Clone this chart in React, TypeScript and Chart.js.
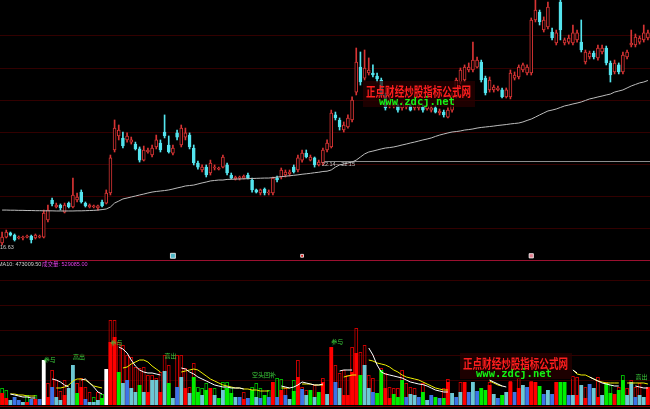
import React, { useEffect, useRef } from 'react';
import { Chart, registerables } from 'chart.js';

Chart.register(...registerables);

// ---------- price panel ----------
const OPEN = [
  16.76, 17.15, 17.42, 17.28, 17.09, 17.09, 17.15, 17.22, 17.09, 17.15,
  17.15, 18.27, 19.58, 19.12, 19.25, 18.79, 19.38, 19.12, 19.58, 20.10,
  19.38, 19.12, 19.12, 19.06, 19.45, 19.38, 20.04, 22.86, 23.78, 23.65,
  23.52, 23.38, 23.25, 22.93, 22.20, 22.73, 22.53, 23.06, 23.32, 24.04,
  23.19, 22.66, 23.98, 23.19, 23.71, 23.84, 22.99, 22.01, 21.55, 21.74,
  21.35, 21.68, 21.61, 21.74, 21.88, 21.22, 20.96, 21.02, 21.02, 21.22,
  20.89, 20.24, 20.04, 20.30, 20.04, 20.04, 21.02, 21.09, 21.22, 21.30,
  21.74, 21.55, 22.20, 22.66, 22.20, 22.34, 21.88, 22.01, 22.86, 23.06,
  25.16, 24.83, 24.17, 24.37, 24.83, 26.66, 28.30, 27.58, 27.91, 27.91,
  27.71, 27.45, 26.47, 25.75, 25.75, 25.75, 25.62, 25.68, 25.75, 25.62,
  25.62, 25.68, 25.55, 25.48, 25.62, 25.29, 25.35, 25.02, 25.48, 26.34,
  27.32, 27.45, 28.11, 28.11, 28.30, 28.63, 27.58, 26.80, 26.80, 26.80,
  26.80, 26.34, 26.34, 27.58, 27.65, 28.11, 27.91, 27.91, 31.39, 31.91,
  30.73, 30.93, 30.60, 29.88, 32.57, 29.88, 29.94, 29.88, 30.08, 29.94,
  28.63, 28.96, 29.22, 28.90, 29.29, 29.55, 28.57, 27.98, 28.44, 27.98,
  28.96, 29.75, 29.75, 29.94, 30.08, 30.21,
];
const HIGH = [
  17.48, 17.61, 17.48, 17.35, 17.22, 17.22, 17.28, 17.28, 17.35, 17.28,
  18.92, 19.25, 19.71, 19.38, 19.32, 19.38, 19.45, 21.02, 20.04, 20.24,
  19.45, 19.32, 19.25, 19.25, 19.58, 20.24, 22.53, 24.83, 24.50, 24.04,
  23.98, 23.71, 23.38, 23.06, 23.12, 22.99, 23.19, 23.84, 23.52, 25.16,
  23.78, 23.19, 24.17, 24.50, 24.30, 23.98, 23.19, 22.14, 21.88, 21.88,
  22.20, 21.88, 21.74, 22.53, 22.01, 21.35, 21.15, 21.15, 21.22, 21.35,
  21.02, 20.30, 20.30, 20.37, 20.24, 21.09, 21.15, 21.68, 21.55, 21.55,
  21.88, 22.53, 22.86, 22.86, 22.53, 22.40, 22.20, 22.99, 23.52, 25.48,
  25.35, 24.96, 24.70, 25.16, 26.34, 29.55, 29.29, 29.42, 28.90, 28.44,
  27.91, 27.58, 26.60, 26.34, 26.01, 25.88, 26.01, 25.94, 25.88, 26.01,
  25.88, 25.81, 25.88, 25.75, 25.75, 25.55, 25.48, 25.62, 26.60, 27.58,
  28.24, 28.44, 28.57, 29.94, 28.96, 28.76, 27.71, 27.65, 27.12, 27.06,
  26.93, 26.93, 28.11, 27.98, 28.44, 28.57, 28.44, 31.52, 32.70, 32.04,
  31.59, 32.57, 30.86, 30.73, 32.70, 30.21, 30.40, 31.06, 30.73, 31.39,
  29.42, 29.35, 29.35, 29.75, 29.75, 29.68, 28.70, 28.76, 28.57, 29.29,
  29.42, 30.73, 30.47, 30.34, 31.06, 30.73,
];
const LOW = [
  16.63, 17.09, 17.22, 16.89, 17.02, 16.96, 17.09, 16.76, 17.02, 17.09,
  17.09, 18.14, 19.19, 19.06, 18.92, 18.73, 19.06, 19.06, 19.45, 19.38,
  19.12, 19.06, 19.06, 18.92, 19.12, 19.32, 19.91, 22.73, 23.52, 22.99,
  23.38, 23.25, 22.86, 22.07, 22.14, 22.66, 22.40, 22.93, 22.73, 23.65,
  22.66, 22.53, 23.52, 23.06, 23.52, 22.93, 21.88, 21.61, 21.42, 21.09,
  21.22, 21.55, 21.55, 21.68, 21.22, 20.96, 20.89, 20.89, 20.96, 20.96,
  20.10, 20.04, 19.91, 19.91, 19.91, 19.91, 20.76, 20.96, 21.09, 21.15,
  21.35, 21.42, 22.07, 22.34, 22.14, 21.74, 21.81, 21.88, 22.73, 22.99,
  24.83, 24.17, 24.04, 24.30, 24.70, 26.47, 27.12, 27.45, 27.78, 27.65,
  27.32, 26.34, 25.48, 25.62, 25.62, 25.35, 25.48, 25.55, 25.42, 25.48,
  25.48, 25.35, 25.48, 25.35, 25.29, 25.16, 25.02, 24.96, 25.35, 26.27,
  27.19, 27.32, 27.98, 27.98, 28.24, 27.32, 26.47, 26.66, 26.66, 26.73,
  26.27, 26.27, 26.21, 27.45, 27.52, 27.98, 27.78, 27.78, 31.26, 31.06,
  30.60, 30.80, 30.08, 29.75, 30.08, 29.75, 29.81, 29.75, 29.94, 29.29,
  28.50, 28.83, 28.83, 28.76, 29.16, 28.44, 27.32, 27.85, 27.85, 27.85,
  28.83, 29.62, 29.62, 29.81, 29.94, 30.08,
];
const CLOSE = [
  17.15, 17.48, 17.28, 16.96, 17.15, 17.15, 17.22, 16.96, 17.28, 17.22,
  18.73, 18.92, 19.32, 19.25, 19.06, 19.25, 19.12, 19.91, 19.78, 19.45,
  19.19, 19.25, 19.19, 19.19, 19.19, 20.04, 22.34, 24.30, 24.17, 23.12,
  23.78, 23.52, 22.93, 22.20, 22.86, 22.86, 22.99, 23.52, 22.86, 23.78,
  22.73, 22.99, 23.71, 24.30, 23.98, 23.06, 22.01, 21.74, 21.74, 21.22,
  22.01, 21.74, 21.68, 22.40, 21.35, 21.02, 21.09, 21.09, 21.15, 21.02,
  20.24, 20.10, 20.24, 20.04, 20.10, 21.02, 20.89, 21.55, 21.42, 21.42,
  21.42, 22.34, 22.66, 22.40, 22.40, 21.88, 22.07, 22.86, 23.32, 25.29,
  24.96, 24.37, 24.50, 24.96, 26.14, 28.63, 27.32, 28.24, 28.11, 27.78,
  27.52, 26.47, 25.62, 26.14, 25.88, 25.48, 25.88, 25.81, 25.48, 25.88,
  25.75, 25.48, 25.75, 25.62, 25.35, 25.42, 25.16, 25.48, 26.47, 27.45,
  28.11, 28.30, 28.30, 28.76, 28.76, 27.45, 26.60, 27.45, 26.99, 26.93,
  26.34, 26.80, 27.91, 27.78, 28.30, 28.44, 28.30, 31.39, 32.04, 31.26,
  31.39, 32.24, 30.21, 30.54, 30.73, 30.08, 30.21, 30.54, 30.54, 29.42,
  29.29, 29.22, 28.96, 29.55, 29.55, 28.57, 27.78, 28.57, 27.98, 29.09,
  29.29, 29.88, 30.27, 30.21, 30.54, 30.54,
];
const PRICE_MA = [
  18.92, 18.92, 18.91, 18.91, 18.90, 18.90, 18.89, 18.89, 18.88, 18.88,
  18.87, 18.87, 18.87, 18.86, 18.86, 18.86, 18.86, 18.86, 18.87, 18.87,
  18.88, 18.89, 18.90, 18.92, 18.95, 18.99, 19.12, 19.38, 19.51, 19.65,
  19.71, 19.78, 19.84, 19.91, 19.97, 20.04, 20.10, 20.14, 20.17, 20.20,
  20.24, 20.30, 20.37, 20.43, 20.50, 20.53, 20.56, 20.63, 20.70, 20.76,
  20.83, 20.86, 20.89, 20.89, 20.93, 20.94, 20.95, 20.96, 20.97, 20.98,
  20.99, 21.00, 21.01, 21.02, 21.02, 21.05, 21.08, 21.11, 21.14, 21.17,
  21.20, 21.23, 21.27, 21.30, 21.33, 21.37, 21.40, 21.45, 21.47, 21.55,
  21.74, 21.88, 21.94, 22.01, 22.07, 22.20, 22.40, 22.60, 22.73, 22.79,
  22.86, 22.93, 22.99, 23.02, 23.06, 23.12, 23.19, 23.25, 23.32, 23.38,
  23.45, 23.52, 23.58, 23.65, 23.75, 23.84, 23.91, 23.98, 24.04, 24.07,
  24.11, 24.17, 24.20, 24.24, 24.30, 24.34, 24.37, 24.40, 24.43, 24.47,
  24.50, 24.53, 24.57, 24.60, 24.63, 24.70, 24.80, 24.89, 25.02, 25.16,
  25.29, 25.42, 25.48, 25.55, 25.65, 25.75, 25.81, 25.88, 25.94, 26.01,
  26.11, 26.21, 26.27, 26.34, 26.40, 26.47, 26.53, 26.66, 26.73, 26.80,
  26.93, 27.06, 27.16, 27.26, 27.32, 27.42,
];
const PRICE_GRID = [30.40, 28.24, 26.14, 24.04, 21.94, 19.84, 17.74];
const PRICE_MIN = 15.71;
const PRICE_MAX = 32.70;
const LEVEL_PRICE = 22.14;
const LEVEL_FROM = 77;
const LEVEL_TEXT = '22.14—22.15';
const MARK_INDEX = [41, 72, 127];
const MARK_PRICE = 15.92;
const MARK_COLOR = ['#4fb8c8', '#e01818', '#e07c8c'];
const MARK_SIZE = [3.5, 2, 3];

// ---------- volume panel ----------
const VOLUME = [
  353000, 206000, 147000, 235000, 147000, 88000, 88000, 176000, 176000, 176000,
  1323000, 235000, 529000, 235000, 147000, 294000, 500000, 1176000, 353000, 529000,
  176000, 88000, 88000, 147000, 206000, 1058000, 1852000, 1999000, 970000, 647000,
  735000, 500000, 382000, 588000, 382000, 382000, 735000, 735000, 382000, 1000000,
  647000, 206000, 529000, 823000, 500000, 353000, 823000, 382000, 294000, 441000,
  500000, 294000, 206000, 441000, 500000, 353000, 235000, 235000, 176000, 206000,
  441000, 235000, 206000, 294000, 235000, 676000, 235000, 441000, 294000, 176000,
  412000, 823000, 470000, 294000, 441000, 235000, 382000, 676000, 323000, 1705000,
  676000, 500000, 294000, 294000, 970000, 1529000, 882000, 1176000, 500000, 382000,
  353000, 1029000, 500000, 206000, 323000, 235000, 735000, 235000, 323000, 294000,
  235000, 382000, 147000, 294000, 235000, 206000, 206000, 676000, 353000, 235000,
  382000, 676000, 382000, 676000, 412000, 500000, 441000, 588000, 323000, 206000,
  294000, 382000, 676000, 382000, 500000, 588000, 529000, 676000, 676000, 559000,
  323000, 441000, 323000, 676000, 676000, 676000, 294000, 294000, 294000, 588000,
  206000, 617000, 500000, 235000, 294000, 647000, 353000, 323000, 441000, 735000,
  294000, 676000, 235000, 294000, 235000, 529085,
];
const VOLUME_KIND = (
  'RRCBBCRBRB' + 'WRBCCRCCGR' + 'BCCCGWRRGC' + 'BCCGCRCCRC' + 'GCBCRCGGCG' +
  'RCGCGGCBRB' + 'GCBGBRBRBC' + 'GRBCGCGRCR' + 'BCRRRRGCCB' + 'GGRRGGGBCC' +
  'BGCBGBGRCB' + 'CRBCBGGRCB' + 'GCRBRCBRRG' + 'BCBRGGBCRC' + 'RBCRCGGRGG' + 'CCBCCR'
).split('');
const OUTLINE = [
  500000, 441000, null, null, null, null, 294000, null, 294000, null,
  null, 647000, 1029000, 735000, 412000, 735000, null, null, 647000, 794000,
  529000, 382000, 235000, 382000, 323000, null, 2499000, 2499000, 1852000, 1764000,
  1470000, 1411000, 1117000, 1088000, 1117000, 882000, 882000, 794000, 970000, 1470000,
  1176000, null, 1470000, 1470000, 1088000, 529000, 1235000, 529000, 500000, 647000,
  null, 500000, null, 676000, 676000, 529000, null, null, 382000, null,
  529000, 647000, 500000, null, 441000, null, 794000, 764000, 500000, null,
  735000, 1323000, 529000, 441000, null, 588000, null, 794000, null, null,
  1176000, 941000, 1029000, 882000, 1705000, 2264000, 1558000, 1764000, 882000, 794000,
  null, 1088000, 941000, 529000, 500000, 500000, 1029000, 647000, 529000, 500000,
  null, 647000, null, null, null, null, 500000, 764000, null, null,
  676000, null, null, null, null, null, null, 676000, null, null,
  null, null, 706000, null, 794000, null, null, 706000, null, null,
  null, null, null, null, null, null, null, 853000, 823000, null,
  529000, null, null, 823000, null, 676000, 588000, null, 529000, 882000,
  500000, 735000, 529000, 647000, null, null,
];
const OUTLINE_KIND = (
  'gg----g-g-' + '-rrrrr--rr' + 'rrgrg-rrrr' + 'rrrrrrrrrr' + 'r-rrrrrggg' +
  '-g-ggg--r-' + 'ggg-g-ggr-' + 'grrr-r-r--' + 'rrrrrrrrrr' + '-rrrrrrrrr' +
  '-r----rr--' + 'r------r--' + '--r-r--r--' + '-------rr-' + 'r--r-rg-rg' + 'rrrr--'
).split('');
const VOL_MA5 = [
  null, null, 323000, 294000, 265000, 235000, 235000, 206000, 206000, null,
  null, null, 764000, 735000, 676000, 588000, 529000, null, null, 735000,
  764000, 647000, 529000, 382000, 323000, null, null, null, 1705000, 1646000,
  1529000, 1323000, 1147000, 1029000, 970000, 941000, 941000, 911000, 882000, null,
  null, null, null, 1088000, 1058000, 970000, 911000, 823000, 764000, 706000,
  647000, 588000, 559000, 529000, 529000, 500000, 500000, 500000, 470000, null,
  null, null, null, null, null, null, null, 559000, 529000, 500000,
  529000, 588000, 676000, 647000, 617000, 588000, 588000, 617000, null, null,
  null, 1000000, 1029000, 1029000, 1029000, null, null, null, 1676000, 1470000,
  1176000, 970000, 911000, 882000, 853000, 823000, 794000, 735000, 676000, 647000,
  617000, 600000, 559000, 500000, 441000, 412000, 382000, 382000, null, null,
  null, null, null, null, null, null, null, 735000, 676000, 617000,
  559000, 529000, null, null, null, null, null, null, null, null,
  null, null, null, null, null, null, null, 1029000, 941000, null,
  null, 823000, 764000, 706000, 647000, 617000, 588000, 559000, 559000, null,
  null, null, 559000, 529000, 500000, 500000,
];
const VOL_MA10 = [
  null, null, 323000, 323000, 294000, 294000, 265000, 265000, 265000, null,
  null, null, null, 500000, 500000, 529000, 588000, 706000, 764000, 764000,
  735000, 647000, 559000, 529000, 500000, null, null, null, null, 1088000,
  1117000, 1205000, 1264000, 1323000, 1323000, 1264000, 1147000, 1058000, 970000, null,
  null, null, null, 970000, 1000000, 1029000, 1058000, 1029000, 941000, 853000,
  764000, 706000, 647000, 588000, 559000, 529000, 500000, 500000, 470000, 470000,
  441000, 441000, 412000, 412000, 412000, null, null, 500000, 500000, 500000,
  null, null, 617000, 617000, 617000, 588000, 588000, 588000, null, null,
  null, null, 823000, 853000, 882000, 882000, null, null, 1323000, 1294000,
  1235000, 1205000, 1176000, 1117000, 1029000, 970000, 882000, 823000, 794000, 764000,
  735000, 676000, 617000, 559000, 500000, 470000, 441000, 441000, null, null,
  null, null, null, null, null, null, null, 706000, 647000, 588000,
  559000, null, null, null, null, null, null, null, null, null,
  null, null, null, null, null, null, null, 1029000, 911000, 882000,
  882000, 823000, 764000, 706000, 676000, 647000, 647000, 647000, 647000, null,
  647000, 647000, 647000, 647000, 647000, 617000,
];
const VOLUME_GRID = [735000, 1470000, 2205000, 2940000, 3675000];
const VOLUME_MAX = 4292400;
const MA10_VALUE = 473009.5;
const SIGNAL_INDEX = [10, 17, 26, 39, 60, 79, 152];
const SIGNAL_TEXT = ['参与', '高出', '参与', '高出', '空头回补', '参与', '高出'];
const SIGNAL_LEVEL = [1323000, 1411000, 1823000, 1441000, 882000, 1852000, 823000];

const DAYS = OPEN.map((_, i) => String(i + 1));

const UP = '#d83434';
const DOWN = '#54e4ee';
const KIND_COLOR: Record<string, string> = { R: '#ff0000', C: '#6cc8d4', B: '#3c74e6', G: '#00ee00', W: '#ffffff' };
const OUTLINE_COLOR: Record<string, string> = { r: '#c80000', g: '#00b400', '-': 'rgba(0,0,0,0)' };
const GRID = '#320000';
const CJK = '"Noto Sans CJK SC"';

const background = {
  id: 'bg',
  beforeDraw(chart: any) {
    const { ctx, width, height } = chart;
    ctx.save();
    ctx.fillStyle = '#000';
    ctx.fillRect(0, 0, width, height);
    ctx.restore();
  },
};

function watermark(ctx: CanvasRenderingContext2D, left: number, top: number) {
  ctx.save();
  ctx.fillStyle = 'rgba(40,0,0,0.72)';
  ctx.fillRect(left - 3, top - 4, 112, 26);
  ctx.fillStyle = '#ff1e1e';
  ctx.font = `bold 13px ${CJK}`;
  ctx.textBaseline = 'middle';
  ctx.textAlign = 'left';
  ctx.fillText('正点财经炒股指标公式网', left, top + 6.5, 105);
  ctx.fillStyle = '#14f014';
  ctx.font = 'bold 10.5px "DejaVu Sans Mono"';
  ctx.fillText('www.zdcj.net', left + 13, top + 17.5, 76);
  ctx.restore();
}

const upperDecor = {
  id: 'upperDecor',
  beforeDatasetsDraw(chart: any) {
    const { ctx, width, scales } = chart;
    const y = scales.y;
    const x = scales.x;
    ctx.save();
    ctx.lineWidth = 1;
    ctx.strokeStyle = GRID;
    PRICE_GRID.forEach((v) => {
      const py = Math.round(y.getPixelForValue(v)) + 0.5;
      ctx.beginPath();
      ctx.moveTo(0, py);
      ctx.lineTo(width, py);
      ctx.stroke();
    });
    const ly = Math.round(y.getPixelForValue(LEVEL_PRICE)) + 0.5;
    ctx.strokeStyle = '#8c8c8c';
    ctx.beginPath();
    ctx.moveTo(x.getPixelForValue(LEVEL_FROM) - 1, ly);
    ctx.lineTo(width, ly);
    ctx.stroke();
    ctx.restore();
  },
  afterDatasetsDraw(chart: any) {
    const { ctx, scales } = chart;
    const y = scales.y;
    const x = scales.x;
    ctx.save();
    ctx.font = '5.5px "Liberation Sans"';
    ctx.fillStyle = '#c8c8c8';
    ctx.textBaseline = 'top';
    ctx.textAlign = 'left';
    ctx.fillText(LOW[0].toFixed(2), 0, y.getPixelForValue(LOW[0]) - 0.5);
    ctx.fillText(LEVEL_TEXT, x.getPixelForValue(LEVEL_FROM) - 1, y.getPixelForValue(LEVEL_PRICE) + 1);
    ctx.restore();
    watermark(ctx, 366, 85);
  },
};

const lowerDecor = {
  id: 'lowerDecor',
  beforeDatasetsDraw(chart: any) {
    const { ctx, width, scales } = chart;
    const y = scales.y;
    ctx.save();
    ctx.lineWidth = 1;
    ctx.strokeStyle = GRID;
    VOLUME_GRID.forEach((v) => {
      const py = Math.round(y.getPixelForValue(v)) + 0.5;
      ctx.beginPath();
      ctx.moveTo(0, py);
      ctx.lineTo(width, py);
      ctx.stroke();
    });
    ctx.strokeStyle = '#9c1030';
    ctx.beginPath();
    ctx.moveTo(0, 1.5);
    ctx.lineTo(width, 1.5);
    ctx.stroke();
    ctx.strokeStyle = '#7a0000';
    const by = Math.round(y.getPixelForValue(0)) + 1.5;
    ctx.beginPath();
    ctx.moveTo(0, by);
    ctx.lineTo(width, by);
    ctx.stroke();
    ctx.restore();
  },
  afterDatasetsDraw(chart: any) {
    const { ctx, scales } = chart;
    const y = scales.y;
    const x = scales.x;
    ctx.save();
    ctx.textBaseline = 'middle';
    ctx.textAlign = 'left';
    ctx.font = `5.5px "Liberation Sans", ${CJK}`;
    ctx.fillStyle = '#d0d0d0';
    ctx.fillText(`MA10: ${MA10_VALUE.toFixed(2)}`, -2, 5.5);
    ctx.fillStyle = '#e040e8';
    ctx.fillText(`成交量: ${VOLUME[VOLUME.length - 1].toFixed(2)}`, 42, 5.5);
    ctx.font = `6px ${CJK}`;
    ctx.fillStyle = '#3cd03c';
    SIGNAL_INDEX.forEach((idx, k) => {
      ctx.fillText(SIGNAL_TEXT[k], x.getPixelForValue(idx), y.getPixelForValue(SIGNAL_LEVEL[k]));
    });
    ctx.restore();
    watermark(ctx, 463, 98);
  },
};

export default function App() {
  const topRef = useRef<HTMLCanvasElement>(null);
  const botRef = useRef<HTMLCanvasElement>(null);

  useEffect(() => {
    document.body.style.margin = '0';
    document.body.style.background = '#000';
    const isUp = CLOSE.map((c, i) => c >= OPEN[i]);
    const marks = DAYS.map((_, i) => (MARK_INDEX.includes(i) ? MARK_PRICE : null));

    const top = new Chart(topRef.current as HTMLCanvasElement, {
      type: 'bar',
      data: {
        labels: DAYS,
        datasets: [
          {
            type: 'line',
            label: 'MA',
            data: PRICE_MA,
            borderColor: '#bcbcbc',
            borderWidth: 1,
            pointRadius: 0,
            tension: 0,
            order: 1,
          } as any,
          {
            type: 'line',
            label: 'marks',
            data: marks,
            showLine: false,
            pointStyle: 'rect',
            pointRadius: (c: any) => {
              const k = MARK_INDEX.indexOf(c.dataIndex);
              return k >= 0 ? MARK_SIZE[k] : 0;
            },
            pointBackgroundColor: (c: any) => MARK_COLOR[Math.max(0, MARK_INDEX.indexOf(c.dataIndex))],
            pointBorderColor: '#ffffff',
            pointBorderWidth: 0.8,
            order: 0,
          } as any,
          {
            label: 'body',
            data: OPEN.map((o, i) => [o, CLOSE[i]]),
            backgroundColor: isUp.map((u) => (u ? '#000000' : DOWN)),
            borderColor: isUp.map((u) => (u ? UP : DOWN)),
            borderWidth: 1,
            borderSkipped: false,
            barThickness: 3,
            grouped: false,
            order: 2,
          } as any,
          {
            label: 'wick',
            data: LOW.map((l, i) => [l, HIGH[i]]),
            backgroundColor: isUp.map((u) => (u ? UP : DOWN)),
            borderWidth: 0,
            barThickness: 1,
            grouped: false,
            order: 3,
          } as any,
        ],
      },
      options: {
        animation: false,
        responsive: true,
        maintainAspectRatio: false,
        events: [],
        layout: { padding: 0 },
        plugins: { legend: { display: false }, tooltip: { enabled: false } },
        scales: {
          x: { display: false, offset: true },
          y: { display: false, min: PRICE_MIN, max: PRICE_MAX },
        },
      },
      plugins: [background, upperDecor],
    } as any);

    const bot = new Chart(botRef.current as HTMLCanvasElement, {
      type: 'bar',
      data: {
        labels: DAYS,
        datasets: [
          {
            type: 'line',
            label: 'MA5',
            data: VOL_MA5,
            borderColor: '#ffffff',
            borderWidth: 1,
            pointRadius: 0,
            spanGaps: false,
            order: 1,
          } as any,
          {
            type: 'line',
            label: 'MA10',
            data: VOL_MA10,
            borderColor: '#f0f000',
            borderWidth: 1,
            pointRadius: 0,
            spanGaps: false,
            order: 1,
          } as any,
          {
            label: 'volume',
            data: VOLUME,
            backgroundColor: VOLUME_KIND.map((k) => KIND_COLOR[k]),
            borderWidth: 0,
            barPercentage: 0.92,
            categoryPercentage: 1,
            grouped: false,
            order: 2,
          } as any,
          {
            label: 'outline',
            data: OUTLINE,
            backgroundColor: 'rgba(0,0,0,0)',
            borderColor: OUTLINE_KIND.map((k) => OUTLINE_COLOR[k]),
            borderWidth: 1,
            barPercentage: 0.92,
            categoryPercentage: 1,
            grouped: false,
            order: 3,
          } as any,
        ],
      },
      options: {
        animation: false,
        responsive: true,
        maintainAspectRatio: false,
        events: [],
        layout: { padding: { top: 0, left: 0, right: 0, bottom: 4 } },
        plugins: { legend: { display: false }, tooltip: { enabled: false } },
        scales: {
          x: { display: false, offset: true },
          y: { display: false, min: 0, max: VOLUME_MAX },
        },
      },
      plugins: [background, lowerDecor],
    } as any);

    return () => {
      top.destroy();
      bot.destroy();
    };
  }, []);

  return (
    <div style={{ position: 'fixed', left: 0, top: 0, width: 650, height: 409, background: '#000', overflow: 'hidden' }}>
      <div style={{ position: 'absolute', left: 0, top: 0, width: 650, height: 259 }}>
        <canvas ref={topRef} />
      </div>
      <div style={{ position: 'absolute', left: 0, top: 259, width: 650, height: 150 }}>
        <canvas ref={botRef} />
      </div>
    </div>
  );
}
